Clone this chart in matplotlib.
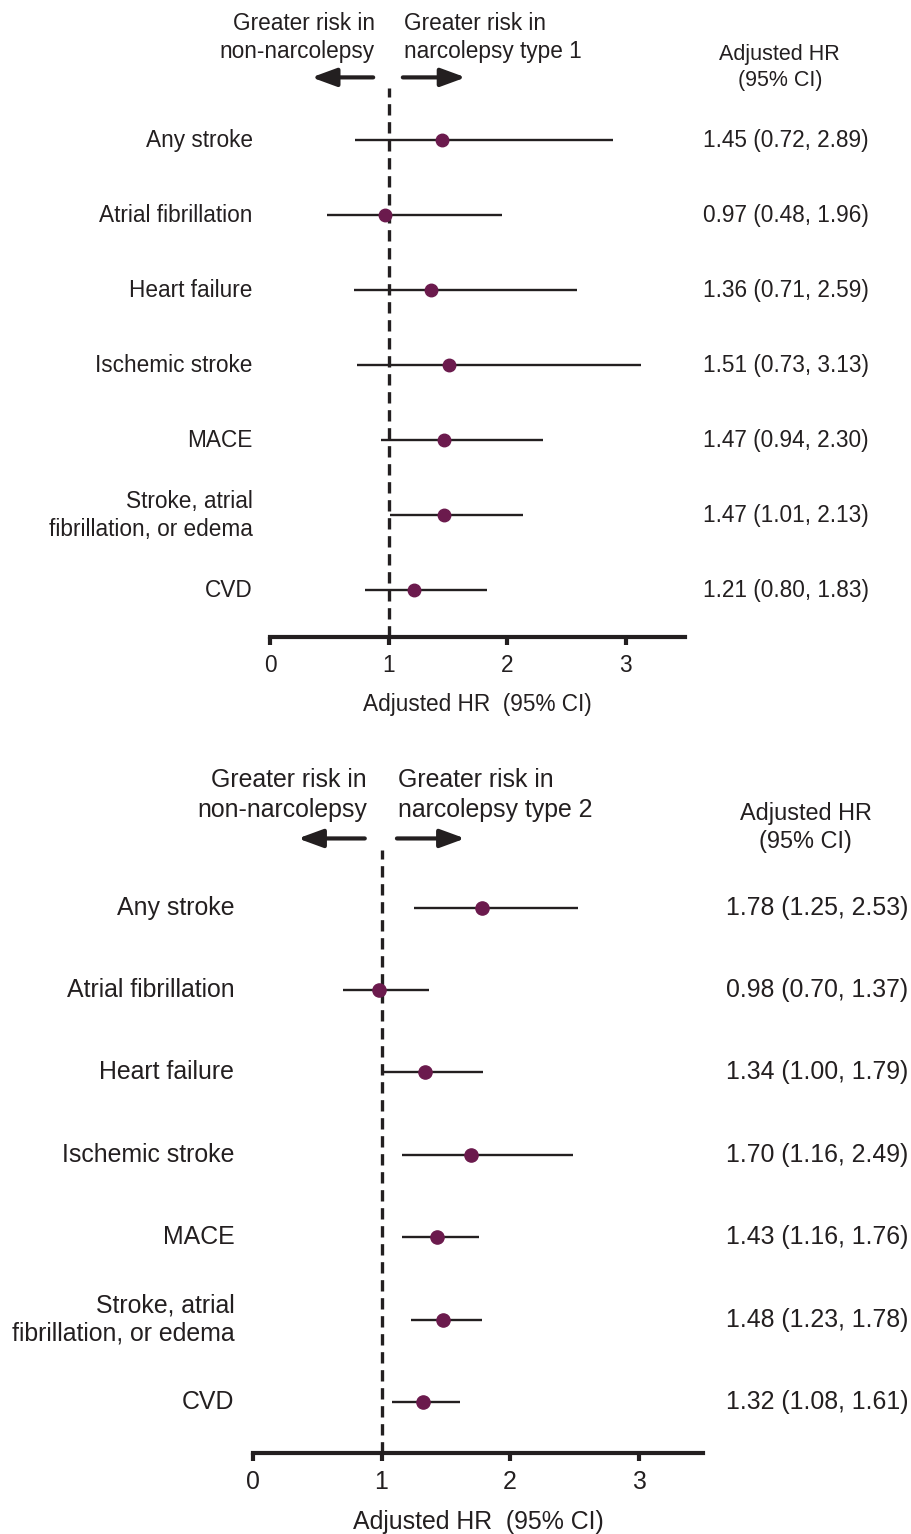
import matplotlib.pyplot as plt

plt.rcParams['font.family'] = ['Liberation Sans', 'DejaVu Sans']

outcomes = ["Any stroke", "Atrial fibrillation", "Heart failure", "Ischemic stroke",
            "MACE", "Stroke, atrial\nfibrillation, or edema", "CVD"]

# narcolepsy type 1
hr_nt1 = [1.45, 0.97, 1.36, 1.51, 1.47, 1.47, 1.21]
lo_nt1 = [0.72, 0.48, 0.71, 0.73, 0.94, 1.01, 0.80]
hi_nt1 = [2.89, 1.96, 2.59, 3.13, 2.30, 2.13, 1.83]

# narcolepsy type 2
hr_nt2 = [1.78, 0.98, 1.34, 1.70, 1.43, 1.48, 1.32]
lo_nt2 = [1.25, 0.70, 1.00, 1.16, 1.16, 1.23, 1.08]
hi_nt2 = [2.53, 1.37, 1.79, 2.49, 1.76, 1.78, 1.61]

xticks = [0, 1, 2, 3]

c_dot = "#6B1A4D"
c_line = "#231F20"

fig = plt.figure(figsize=(9.12, 15.34), dpi=100)


def forest(ax, hr, lo, hi, group, fs, hfs, ms, xval):
    ypos = list(range(len(hr)))
    ax.set_xlim(0, 3.5)
    ax.set_ylim(6.62, -0.70)
    ax.axvline(1, color=c_line, linestyle=(0, (3.4, 2.0)), linewidth=2.4, zorder=1)
    ax.hlines(ypos, lo, hi, color=c_line, linewidth=1.7, zorder=2)
    ax.plot(hr, ypos, "o", color=c_dot, markersize=ms, zorder=3)

    for y, lab, h, l, u in zip(ypos, outcomes, hr, lo, hi):
        ax.text(-0.145, y, lab, ha="right", va="center", fontsize=fs,
                color=c_line, linespacing=1.25)
        ax.text(xval, y, f"{h:.2f} ({l:.2f}, {u:.2f})", ha="left", va="center",
                fontsize=fs, color=c_line)

    ax.text(4.3, -0.97, "Adjusted HR\n(95% CI)", ha="center", va="center",
            fontsize=hfs, color=c_line, linespacing=1.3)
    ax.text(0.885, -1.37, "Greater risk in\nnon-narcolepsy", ha="right", va="center",
            fontsize=fs, color=c_line, linespacing=1.3)
    ax.text(1.127, -1.37, "Greater risk in\nnarcolepsy type " + group, ha="left",
            va="center", fontsize=fs, color=c_line, linespacing=1.3)

    arrow = dict(arrowstyle="-|>,head_length=1.5,head_width=0.55", color=c_line,
                 linewidth=3, shrinkA=0, shrinkB=0)
    ax.annotate("", xy=(0.35, -0.84), xytext=(0.87, -0.84), arrowprops=arrow,
                annotation_clip=False)
    ax.annotate("", xy=(1.65, -0.84), xytext=(1.12, -0.84), arrowprops=arrow,
                annotation_clip=False)

    for s in ["top", "left", "right"]:
        ax.spines[s].set_visible(False)
    ax.spines["bottom"].set_linewidth(3)
    ax.spines["bottom"].set_color(c_line)
    ax.set_yticks([])
    ax.set_xticks(xticks)
    ax.tick_params(axis="x", length=6, width=3, pad=6, labelsize=fs, colors=c_line)
    ax.set_xlabel("Adjusted HR  (95% CI)", fontsize=fs, color=c_line, labelpad=12)


ax1 = fig.add_axes([0.2961, 0.5848, 0.4550, 0.3579])
forest(ax1, hr_nt1, lo_nt1, hi_nt1, "1", 16.3, 15.5, 9, 3.65)

ax2 = fig.add_axes([0.2774, 0.0528, 0.4932, 0.3931])
forest(ax2, hr_nt2, lo_nt2, hi_nt2, "2", 17.9, 16.9, 9.5, 3.68)

fig.savefig("out.png", dpi=100)
